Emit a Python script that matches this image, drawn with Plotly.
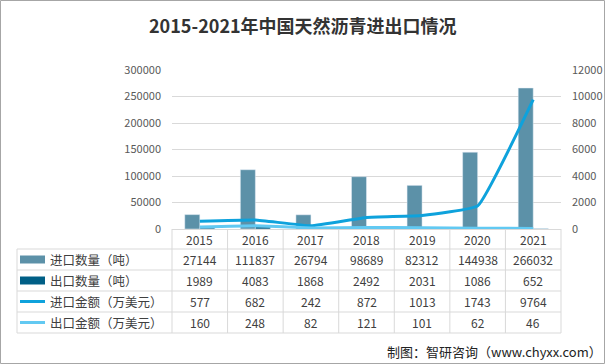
import plotly.graph_objects as go

years = ["2015", "2016", "2017", "2018", "2019", "2020", "2021"]
import_qty = [27144, 111837, 26794, 98689, 82312, 144938, 266032]
export_qty = [1989, 4083, 1868, 2492, 2031, 1086, 652]
import_val = [577, 682, 242, 872, 1013, 1743, 9764]
export_val = [160, 248, 82, 121, 101, 62, 46]

row_names = ["进口数量（吨）", "出口数量（吨）", "进口金额（万美元）", "出口金额（万美元）"]
row_values = [import_qty, export_qty, import_val, export_val]

left_ticks = [0, 50000, 100000, 150000, 200000, 250000, 300000]
right_ticks = [0, 2000, 4000, 6000, 8000, 10000, 12000]

c_imp_bar = "#5c91a8"
c_exp_bar = "#005f86"
c_imp_line = "#0ea2dc"
c_exp_line = "#62c9f2"
row_colors = [c_imp_bar, c_exp_bar, c_imp_line, c_exp_line]
row_kinds = ["bar", "bar", "line", "line"]

W, H = 605, 364
L, R, T, B = 172, 561, 70, 229

def px(x):
    return (x - L) / (R - L)

def py(y):
    return (B - y) / (B - T)

FONT = "Noto Sans CJK SC, Roboto, sans-serif"
xs = list(range(len(years)))

fig = go.Figure()
fig.add_trace(go.Bar(x=xs, y=import_qty, name=row_names[0], marker_color=c_imp_bar, yaxis="y"))
fig.add_trace(go.Bar(x=xs, y=export_qty, name=row_names[1], marker_color=c_exp_bar, yaxis="y"))
fig.add_trace(go.Scatter(x=xs, y=import_val, name=row_names[2], mode="lines",
                         line=dict(color=c_imp_line, width=3, shape="spline", smoothing=0.3),
                         yaxis="y2"))
fig.add_trace(go.Scatter(x=xs, y=export_val, name=row_names[3], mode="lines",
                         line=dict(color=c_exp_line, width=3, shape="spline", smoothing=0.3),
                         yaxis="y2"))

shapes = []
annotations = []
grid_c = "#d9d9d9"

row_lines = [249, 270, 291, 312, 333]
for yl in row_lines:
    shapes.append(dict(type="line", xref="paper", yref="paper", x0=px(17), x1=px(R),
                       y0=py(yl), y1=py(yl), line=dict(color=grid_c, width=1)))
ncol = len(years)
for i in range(ncol + 1):
    xl = L + (R - L) * i / ncol
    shapes.append(dict(type="line", xref="paper", yref="paper", x0=px(xl), x1=px(xl),
                       y0=py(B), y1=py(333), line=dict(color=grid_c, width=1)))
shapes.append(dict(type="line", xref="paper", yref="paper", x0=px(17), x1=px(17),
                   y0=py(249), y1=py(333), line=dict(color=grid_c, width=1)))

TXT = "#404040"
for xi, yr in zip(xs, years):
    annotations.append(dict(x=xi, xref="x", y=py(239.5), yref="paper", text=yr,
                            xanchor="center", yanchor="middle",
                            showarrow=False, font=dict(size=12, color=TXT, family=FONT)))

row_centers = [259.5, 280.5, 301.5, 322.5]
for name, vals, col, kind, yc in zip(row_names, row_values, row_colors, row_kinds, row_centers):
    for xi, v in zip(xs, vals):
        annotations.append(dict(x=xi, xref="x", y=py(yc), yref="paper", text=str(v),
                                xanchor="center", yanchor="middle",
                                showarrow=False, font=dict(size=12, color=TXT, family=FONT)))
    annotations.append(dict(x=px(48), xref="paper", y=py(yc), yref="paper", text=name,
                            xanchor="left", yanchor="middle", showarrow=False,
                            font=dict(size=12.5, color=TXT, family=FONT)))
    if kind == "bar":
        shapes.append(dict(type="rect", xref="paper", yref="paper", x0=px(20), x1=px(45),
                           y0=py(yc - 4), y1=py(yc + 4), fillcolor=col, line=dict(width=0)))
    else:
        shapes.append(dict(type="line", xref="paper", yref="paper", x0=px(20), x1=px(45),
                           y0=py(yc), y1=py(yc), line=dict(color=col, width=3)))

shapes.append(dict(type="rect", xref="paper", yref="paper", x0=px(0.5), x1=px(W - 0.5),
                   y0=py(H - 0.5), y1=py(0.5), line=dict(color="#a6a6a6", width=1),
                   fillcolor="rgba(0,0,0,0)"))

annotations.append(dict(x=px(W / 2), xref="paper", y=py(25), yref="paper",
                        xanchor="center", yanchor="middle",
                        text="<b>2015-2021年中国天然沥青进出口情况</b>", showarrow=False,
                        font=dict(size=18, color="#333333", family=FONT)))
annotations.append(dict(x=px(604), xref="paper", y=py(351), yref="paper",
                        xanchor="right", yanchor="middle",
                        text="制图：智研咨询（www.chyxx.com）", showarrow=False,
                        font=dict(size=13, color="#222222", family=FONT)))

fig.update_layout(
    width=W, height=H,
    margin=dict(l=L, r=W - R, t=T, b=H - B, pad=0, autoexpand=False),
    paper_bgcolor="white", plot_bgcolor="white",
    showlegend=False,
    barmode="group", bargap=0.46, bargroupgap=0,
    font=dict(family=FONT, color="#595959"),
    xaxis=dict(range=[-0.5, 6.5], showticklabels=False, showgrid=False, zeroline=False,
               showline=True, linecolor=grid_c, linewidth=1, ticks="", automargin=False),
    yaxis=dict(range=[0, 300000], tickvals=left_ticks, ticktext=[str(v) for v in left_ticks],
               showgrid=True, gridcolor=grid_c, gridwidth=1, zeroline=False, automargin=False,
               tickfont=dict(size=11, color="#595959"), ticks="", ticklabelstandoff=10),
    yaxis2=dict(range=[0, 12000], tickvals=right_ticks, ticktext=[str(v) for v in right_ticks],
                overlaying="y", side="right", showgrid=False, zeroline=False, automargin=False,
                tickfont=dict(size=11, color="#595959"), ticks="", ticklabelstandoff=10),
    shapes=shapes, annotations=annotations,
)

fig.write_html(
    "out.html",
    config={"displayModeBar": False},
    post_script="document.body.style.margin='0';document.body.style.overflow='hidden';",
)
